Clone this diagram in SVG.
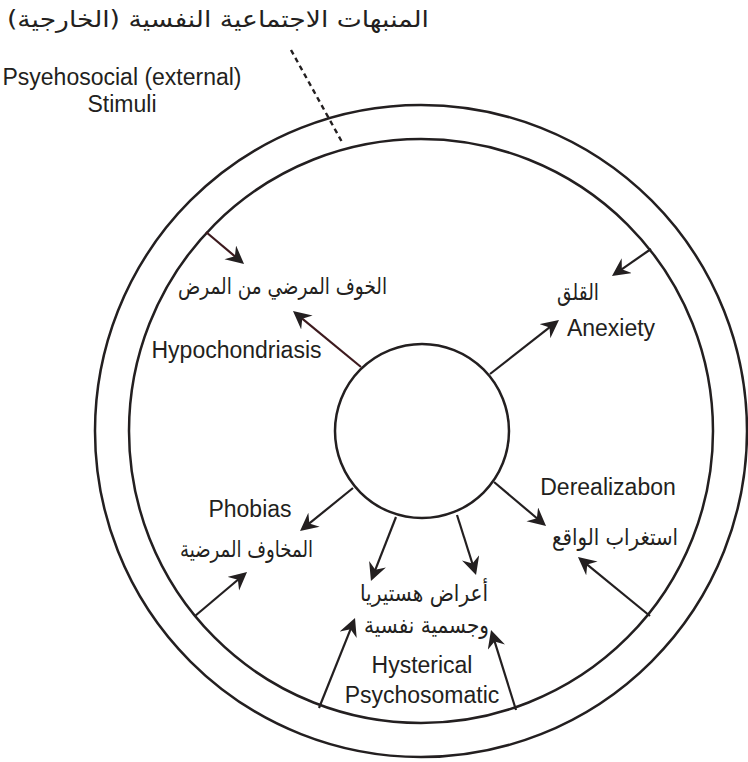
<svg xmlns="http://www.w3.org/2000/svg" width="748" height="762" viewBox="0 0 748 762">
<style>
.ring{fill:none;stroke:#231f20;stroke-width:2.5}
.con{fill:none;stroke:#231f20;stroke-width:2.2;marker-end:url(#ah)}
.red{stroke:#3d1a1e}
.en{font-family:"Liberation Sans",Arial,sans-serif;font-size:23px;fill:#231f20;text-anchor:middle}
.ar{font-family:"DejaVu Sans","Noto Sans",sans-serif;font-size:23px;fill:#231f20;text-anchor:middle}
</style>
<defs>
<marker id="ah" markerUnits="userSpaceOnUse" markerWidth="20" markerHeight="20" refX="8" refY="9" orient="auto" viewBox="0 0 20 20">
<path d="M18,9 L0,0 L6,9 L0,18 Z" fill="#231f20"/>
</marker>
</defs>
<rect width="748" height="762" fill="#fff"/>
<g id="rings">
<circle class="ring" cx="421" cy="431" r="326"/>
<circle class="ring" cx="421" cy="431" r="292"/>
</g>
<g id="center-node"><circle class="ring" cx="422" cy="431" r="87"/></g>
<g id="connectors">
<line x1="291" y1="50" x2="342" y2="142" stroke="#231f20" stroke-width="2.4" stroke-dasharray="5,4"/>
<line class="con red" x1="206" y1="232" x2="236.4" y2="257.6"/>
<line class="con red" x1="361" y1="367" x2="300.7" y2="317.4"/>
<line class="con" x1="651" y1="249" x2="620.2" y2="270.3"/>
<line class="con" x1="490" y1="374" x2="551.1" y2="326.2"/>
<line class="con" x1="353" y1="488" x2="307.8" y2="524.7"/>
<line class="con" x1="195" y1="616" x2="239.4" y2="578.5"/>
<line class="con" x1="396" y1="517" x2="374.6" y2="571.7"/>
<line class="con" x1="457" y1="515" x2="473" y2="565.5"/>
<line class="con" x1="494" y1="482" x2="538.4" y2="519.5"/>
<line class="con" x1="650" y1="616" x2="585.7" y2="563.3"/>
<line class="con" x1="319" y1="708" x2="351.3" y2="627.3"/>
<line class="con" x1="516" y1="710" x2="494" y2="639.5"/>
</g>
<g id="title"><text class="ar" x="218" y="27" font-size="28" textLength="422" lengthAdjust="spacingAndGlyphs">المنبهات الاجتماعية النفسية (الخارجية)</text></g>
<g id="stimuli">
<text class="en" x="122" y="85">Psyehosocial (external)</text>
<text class="en" x="122" y="112">Stimuli</text>
</g>
<g id="hypochondriasis">
<text class="ar" x="282.5" y="294" textLength="209" lengthAdjust="spacingAndGlyphs">الخوف المرضي من المرض</text>
<text class="en" x="236.5" y="358">Hypochondriasis</text>
</g>
<g id="anxiety">
<text class="ar" x="578" y="300" textLength="42" lengthAdjust="spacingAndGlyphs">القلق</text>
<text class="en" x="611" y="336">Anexiety</text>
</g>
<g id="phobias">
<text class="en" x="250" y="517">Phobias</text>
<text class="ar" x="246.5" y="557" textLength="133" lengthAdjust="spacingAndGlyphs">المخاوف المرضية</text>
</g>
<g id="derealization">
<text class="en" x="608" y="494.5">Derealizabon</text>
<text class="ar" x="615" y="545" textLength="126" lengthAdjust="spacingAndGlyphs">استغراب الواقع</text>
</g>
<g id="hysterical">
<text class="ar" x="424" y="601" textLength="128" lengthAdjust="spacingAndGlyphs">أعراض هستيريا</text>
<text class="ar" x="426.5" y="633" textLength="125" lengthAdjust="spacingAndGlyphs">وجسمية نفسية</text>
<text class="en" x="422" y="673">Hysterical</text>
<text class="en" x="422" y="703">Psychosomatic</text>
</g>
</svg>
